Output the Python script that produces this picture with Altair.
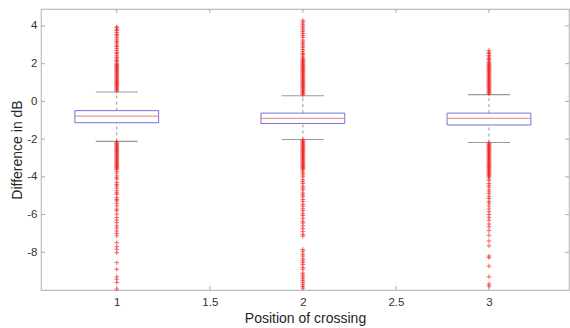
import altair as alt
import pandas as pd

# ---- data ----
positions = [1, 2, 3]
q1 = [-1.13, -1.17, -1.25]
q3 = [-0.49, -0.62, -0.62]
medians = [-0.78, -0.90, -0.90]
whisker_lo = [-2.12, -2.02, -2.18]
whisker_hi = [0.50, 0.30, 0.36]

out1_hi = [0.55, 0.6, 0.65, 0.7, 0.75, 0.8, 0.85, 0.9, 0.95, 1.0, 1.05, 1.1, 1.15, 1.2, 1.25,
           1.3, 1.35, 1.4, 1.45, 1.5, 1.55, 1.6, 1.65, 1.7, 1.75, 1.8, 1.85, 1.9, 1.95, 2.0,
           2.1, 2.15, 2.2, 2.3, 2.35, 2.45, 2.55, 2.6, 2.7, 2.8, 2.9, 2.95, 3.05, 3.15, 3.2,
           3.3, 3.4, 3.5, 3.55, 3.65, 3.75, 3.8, 3.9, 3.95]
out1_lo = [-2.15, -2.2, -2.25, -2.3, -2.35, -2.4, -2.45, -2.5, -2.55, -2.6, -2.65, -2.7, -2.75,
           -2.8, -2.85, -2.9, -2.95, -3.0, -3.05, -3.1, -3.15, -3.2, -3.25, -3.3, -3.35, -3.4,
           -3.45, -3.5, -3.55, -3.6, -3.7, -3.8, -3.95, -4.05, -4.12, -4.3, -4.4, -4.48, -4.6,
           -4.74, -4.85, -4.92, -5.1, -5.2, -5.27, -5.4, -5.54, -5.71, -5.8, -5.98, -6.16, -6.3,
           -6.43, -6.6, -6.72, -6.87, -7.0, -7.13, -7.49, -7.7, -7.84, -8.02, -8.55, -8.9, -9.3,
           -9.43, -9.6, -9.95]
out2_hi = [0.35, 0.4, 0.45, 0.5, 0.55, 0.6, 0.65, 0.7, 0.75, 0.8, 0.85, 0.9, 0.95, 1.0, 1.05,
           1.1, 1.15, 1.2, 1.25, 1.3, 1.35, 1.4, 1.45, 1.5, 1.55, 1.6, 1.65, 1.7, 1.75, 1.8,
           1.85, 1.9, 1.95, 2.0, 2.05, 2.1, 2.15, 2.2, 2.25, 2.3, 2.4, 2.5, 2.55, 2.65, 2.75,
           2.85, 2.95, 3.05, 3.15, 3.25, 3.4, 3.5, 3.6, 3.7, 3.8, 3.9, 4.0, 4.1, 4.2, 4.3]
out2_lo = [-2.05, -2.1, -2.15, -2.2, -2.25, -2.3, -2.35, -2.4, -2.45, -2.5, -2.55, -2.6, -2.65,
           -2.7, -2.75, -2.8, -2.85, -2.9, -2.95, -3.0, -3.05, -3.1, -3.15, -3.2, -3.25, -3.3,
           -3.35, -3.4, -3.45, -3.5, -3.55, -3.6, -3.7, -3.8, -3.9, -4.0, -4.15, -4.25, -4.35,
           -4.5, -4.6, -4.7, -4.85, -4.95, -5.05, -5.2, -5.3, -5.45, -5.55, -5.7, -5.8, -5.95,
           -6.05, -6.2, -6.35, -6.45, -6.6, -6.75, -6.9, -7.05, -7.15, -7.85, -7.95, -8.1, -8.2,
           -8.35, -8.45, -8.55, -8.65, -8.8, -8.9, -9.1, -9.2, -9.3, -9.4, -9.5, -9.6, -9.7,
           -9.8, -9.9]
out3_hi = [0.4, 0.45, 0.5, 0.55, 0.6, 0.65, 0.7, 0.75, 0.8, 0.85, 0.9, 0.95, 1.0, 1.05, 1.1,
           1.15, 1.2, 1.25, 1.3, 1.35, 1.4, 1.45, 1.5, 1.55, 1.6, 1.65, 1.7, 1.75, 1.8, 1.85,
           1.9, 1.95, 2.0, 2.05, 2.1, 2.2, 2.25, 2.3, 2.4, 2.45, 2.55, 2.6, 2.7]
out3_lo = [-2.2, -2.25, -2.3, -2.35, -2.4, -2.45, -2.5, -2.55, -2.6, -2.65, -2.7, -2.75, -2.8,
           -2.85, -2.9, -2.95, -3.0, -3.05, -3.1, -3.15, -3.2, -3.25, -3.3, -3.35, -3.4, -3.45,
           -3.5, -3.55, -3.6, -3.65, -3.7, -3.75, -3.8, -3.85, -3.9, -3.95, -4.0, -4.1, -4.2,
           -4.35, -4.45, -4.55, -4.7, -4.8, -4.9, -5.05, -5.15, -5.3, -5.4, -5.55, -5.7, -5.85,
           -6.0, -6.15, -6.3, -6.5, -6.65, -6.85, -7.1, -7.4, -7.66, -8.2, -8.28, -8.73, -9.3,
           -9.68, -9.79]

x_ticks = [1, 1.5, 2, 2.5, 3]
y_ticks = [-8, -6, -4, -2, 0, 2, 4]

# ---- styling constants ----
BOX_HALF = 0.225
CAP_HALF = 0.113
W, H = 528, 281
FONT = "Liberation Sans"

boxes = pd.DataFrame({
    "pos": positions, "q1": q1, "q3": q3, "med": medians,
    "wlo": whisker_lo, "whi": whisker_hi,
})
boxes["xl"] = boxes["pos"] - BOX_HALF
boxes["xr"] = boxes["pos"] + BOX_HALF
boxes["cl"] = boxes["pos"] - CAP_HALF
boxes["cr"] = boxes["pos"] + CAP_HALF

rows = []
for p, lst in zip(positions, [out1_hi + out1_lo, out2_hi + out2_lo, out3_hi + out3_lo]):
    for v in lst:
        rows.append({"pos": p, "val": v})
outliers = pd.DataFrame(rows)

xscale = alt.Scale(domain=[0.593, 3.43], nice=False, zero=False)
yscale = alt.Scale(domain=[-10.0, 4.9], nice=False, zero=False)
xaxis = alt.Axis(values=x_ticks, title="Position of crossing", grid=False, tickSize=0,
                 domain=False, labelPadding=6, titlePadding=4, labelFlush=False,
                 labelExpr="'' + datum.value")
yaxis = alt.Axis(values=y_ticks, title="Difference in dB", grid=False, tickSize=0,
                 domain=False, labelPadding=4, titlePadding=2, labelFlush=False,
                 labelExpr="'' + datum.value")


def X(f):
    return alt.X(f, type="quantitative", scale=xscale, axis=xaxis)


def Y(f):
    return alt.Y(f, type="quantitative", scale=yscale, axis=yaxis)


base = alt.Chart(boxes)

box = base.mark_rect(fill=None, stroke="#5a5ad8", strokeWidth=1, opacity=0.85).encode(
    x=X("xl"), x2="xr", y=Y("q1"), y2="q3")
median = base.mark_rule(color="#f08080", strokeWidth=1.2, opacity=0.8).encode(
    x=X("xl"), x2="xr", y=Y("med"))
wh_up = base.mark_rule(color="#999999", strokeWidth=1, strokeDash=[3, 3]).encode(
    x=X("pos"), y=Y("q3"), y2="whi")
wh_dn = base.mark_rule(color="#999999", strokeWidth=1, strokeDash=[3, 3]).encode(
    x=X("pos"), y=Y("wlo"), y2="q1")
cap_up = base.mark_rule(color="#999999", strokeWidth=1.2).encode(
    x=X("cl"), x2="cr", y=Y("whi"))
cap_dn = base.mark_rule(color="#999999", strokeWidth=1.2).encode(
    x=X("cl"), x2="cr", y=Y("wlo"))

pts = alt.Chart(outliers).mark_point(
    shape="M-1,0L1,0M0,-1L0,1", filled=False, stroke="#ee2222", strokeWidth=0.9,
    size=22, opacity=0.75).encode(x=X("pos"), y=Y("val"))

xt = alt.Chart(pd.DataFrame({"t": x_ticks}))
yt = alt.Chart(pd.DataFrame({"t": y_ticks}))
TICK = "#aaaaaa"
xt_bot = xt.mark_rule(color=TICK).encode(x=X("t"), y=alt.value(H), y2=alt.value(H - 4))
xt_top = xt.mark_rule(color=TICK).encode(x=X("t"), y=alt.value(0), y2=alt.value(4))
yt_left = yt.mark_rule(color=TICK).encode(y=Y("t"), x=alt.value(0), x2=alt.value(4))
yt_right = yt.mark_rule(color=TICK).encode(y=Y("t"), x=alt.value(W), x2=alt.value(W - 4))

chart = alt.layer(
    xt_bot, xt_top, yt_left, yt_right,
    wh_up, wh_dn, cap_up, cap_dn, box, median, pts
).properties(
    width=W, height=H,
    autosize=alt.AutoSizeParams(type="none"),
    padding={"left": 41, "top": 9, "right": 1, "bottom": 38},
).configure_view(
    stroke="#bdbdbd", strokeWidth=1.2
).configure_axis(
    labelFont=FONT, labelFontSize=11.5, labelColor="#333333",
    titleFont=FONT, titleFontSize=14, titleColor="#262626", titleFontWeight="normal",
)

chart.save("out.html", embed_options={"renderer": "svg", "actions": False})
